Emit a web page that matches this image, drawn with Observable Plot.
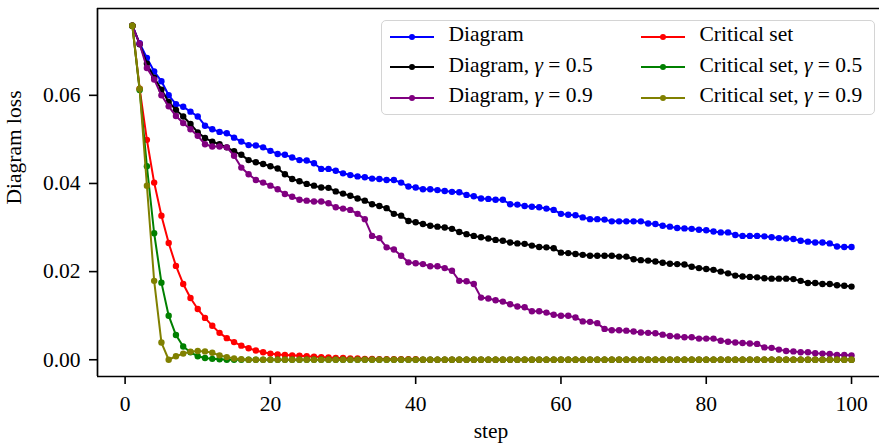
<!DOCTYPE html>
<html>
<head>
<meta charset="utf-8">
<script src="https://cdn.jsdelivr.net/npm/d3@7"></script>
<script src="https://cdn.jsdelivr.net/npm/@observablehq/plot@0.6"></script>
<style>
  body { margin: 0; background: #fff; }
  #wrap { position: relative; width: 879px; height: 445px; font-family: "Liberation Serif", "Times New Roman", serif; }
  #legend { position: absolute; left: 381px; top: 20px; width: 494px; height: 95px; box-sizing: border-box;
            border: 1.5px solid #d4d4d4; border-radius: 5px; background: rgba(255,255,255,0.8); }
  .lg-text { position: absolute; font-size: 21.5px; line-height: 1; white-space: nowrap; color: #000; }
  .lg-handle { position: absolute; }
</style>
</head>
<body>
<div id="wrap"><div id="chart"></div><div id="legend"></div></div>
<script>
// ---- data ----
const steps = d3.range(1, 101);

const diagram = [
  0.0758,0.0718,0.0685,0.0654,0.0632,0.0600,0.0580,0.0574,0.0563,0.0552,
  0.0531,0.0523,0.0517,0.0514,0.0504,0.0495,0.0487,0.0486,0.0482,0.0474,
  0.0467,0.0465,0.0459,0.0453,0.0452,0.0446,0.0433,0.0433,0.0429,0.0423,
  0.0419,0.0416,0.0414,0.0411,0.0410,0.0408,0.0408,0.0402,0.0393,0.0391,
  0.0387,0.0387,0.0385,0.0383,0.0381,0.0380,0.0374,0.0371,0.0366,0.0365,
  0.0363,0.0363,0.0353,0.0352,0.0349,0.0347,0.0346,0.0343,0.0340,0.0331,
  0.0329,0.0328,0.0323,0.0319,0.0319,0.0318,0.0314,0.0314,0.0314,0.0314,
  0.0314,0.0309,0.0308,0.0304,0.0302,0.0299,0.0298,0.0297,0.0295,0.0294,
  0.0291,0.0289,0.0289,0.0283,0.0281,0.0281,0.0281,0.0280,0.0278,0.0276,
  0.0275,0.0274,0.0270,0.0268,0.0266,0.0266,0.0264,0.0257,0.0256,0.0256
];
const diagram05 = [
  0.0758,0.0716,0.0672,0.0640,0.0613,0.0585,0.0567,0.0552,0.0535,0.0516,
  0.0503,0.0495,0.0489,0.0482,0.0473,0.0465,0.0453,0.0448,0.0444,0.0439,
  0.0434,0.0421,0.0410,0.0405,0.0399,0.0395,0.0391,0.0390,0.0382,0.0377,
  0.0372,0.0366,0.0361,0.0353,0.0349,0.0344,0.0331,0.0327,0.0315,0.0312,
  0.0308,0.0304,0.0302,0.0300,0.0297,0.0290,0.0285,0.0281,0.0278,0.0275,
  0.0272,0.0270,0.0266,0.0264,0.0263,0.0259,0.0256,0.0255,0.0253,0.0243,
  0.0242,0.0240,0.0238,0.0236,0.0236,0.0236,0.0236,0.0234,0.0234,0.0228,
  0.0226,0.0225,0.0223,0.0220,0.0218,0.0217,0.0216,0.0211,0.0208,0.0206,
  0.0204,0.0200,0.0196,0.0191,0.0189,0.0188,0.0187,0.0185,0.0184,0.0184,
  0.0184,0.0183,0.0179,0.0174,0.0174,0.0172,0.0172,0.0169,0.0168,0.0166
];
const diagram09 = [
  0.0758,0.0717,0.0662,0.0636,0.0600,0.0575,0.0553,0.0537,0.0523,0.0508,
  0.0489,0.0484,0.0484,0.0482,0.0463,0.0436,0.0421,0.0408,0.0402,0.0395,
  0.0387,0.0376,0.0370,0.0363,0.0361,0.0359,0.0359,0.0355,0.0346,0.0343,
  0.0340,0.0331,0.0319,0.0281,0.0276,0.0255,0.0250,0.0236,0.0221,0.0219,
  0.0217,0.0212,0.0212,0.0208,0.0202,0.0179,0.0178,0.0172,0.0141,0.0139,
  0.0135,0.0132,0.0126,0.0121,0.0119,0.0110,0.0110,0.0107,0.0102,0.0100,
  0.0100,0.0096,0.0087,0.0086,0.0083,0.0070,0.0067,0.0067,0.0066,0.0064,
  0.0062,0.0061,0.0060,0.0057,0.0054,0.0053,0.0051,0.0051,0.0048,0.0048,
  0.0048,0.0043,0.0041,0.0039,0.0038,0.0037,0.0036,0.0028,0.0027,0.0023,
  0.0020,0.0019,0.0017,0.0017,0.0015,0.0014,0.0013,0.0011,0.0011,0.0010
];
const critical = [
  0.0758,0.0615,0.0499,0.0402,0.0327,0.0265,0.0213,0.0172,0.0140,0.0115,
  0.0095,0.0077,0.0061,0.0049,0.0040,0.0032,0.0026,0.0021,0.0017,0.0014,
  0.0012,0.0011,0.0010,0.0009,0.0008,0.0007,0.0006,0.0005,0.0004,0.0004,
  0.0003,0.0003,0.0002,0.0002,0.0001,0.0001,0.0001,0.0001,0.0001,0.0001,
  0,0,0,0,0,0,0,0,0,0,
  0,0,0,0,0,0,0,0,0,0,
  0,0,0,0,0,0,0,0,0,0,
  0,0,0,0,0,0,0,0,0,0,
  0,0,0,0,0,0,0,0,0,0,
  0,0,0,0,0,0,0,0,0,0
];
const critical05 = [
  0.0758,0.0612,0.0439,0.0287,0.0175,0.0100,0.0056,0.0030,0.0017,0.0008,
  0.0004,0.0002,0.0001,0,0,0,0,0,0,0,
  0,0,0,0,0,0,0,0,0,0,
  0,0,0,0,0,0,0,0,0,0,
  0,0,0,0,0,0,0,0,0,0,
  0,0,0,0,0,0,0,0,0,0,
  0,0,0,0,0,0,0,0,0,0,
  0,0,0,0,0,0,0,0,0,0,
  0,0,0,0,0,0,0,0,0,0,
  0,0,0,0,0,0,0,0,0,0
];
const critical09 = [
  0.0758,0.0615,0.0395,0.0179,0.0039,0.0000,0.0008,0.0014,0.0018,0.0020,
  0.0019,0.0016,0.0010,0.0006,0.0003,0.0001,0,0,0,0,
  0,0,0,0,0,0,0,0,0,0,
  0,0,0,0,0,0,0,0,0,0,
  0,0,0,0,0,0,0,0,0,0,
  0,0,0,0,0,0,0,0,0,0,
  0,0,0,0,0,0,0,0,0,0,
  0,0,0,0,0,0,0,0,0,0,
  0,0,0,0,0,0,0,0,0,0,
  0,0,0,0,0,0,0,0,0,0
];

const seriesNames = ["Diagram", "Diagram, γ = 0.5", "Diagram, γ = 0.9",
                     "Critical set", "Critical set, γ = 0.5", "Critical set, γ = 0.9"];
const seriesValues = [diagram, diagram05, diagram09, critical, critical05, critical09];
const seriesColors = ["#0000ff", "#000000", "#800080", "#ff0000", "#008000", "#808000"];

const xTicks = [0, 20, 40, 60, 80, 100];
const yTicks = [0.00, 0.02, 0.04, 0.06];
const xDomain = [-3.8, 103.85];
const yDomain = [-0.0038, 0.0797];

// ---- build ----
const series = seriesNames.map((name, i) => ({
  name, color: seriesColors[i],
  data: steps.map((s, j) => ({step: s, loss: seriesValues[i][j]}))
}));

const seriesMarks = series.flatMap(s => [
  Plot.line(s.data, {x: "step", y: "loss", stroke: s.color, strokeWidth: 2}),
  Plot.dot(s.data, {x: "step", y: "loss", fill: s.color, r: 3.2, stroke: "none"})
]);

const chart = Plot.plot({
  width: 879,
  height: 445,
  marginLeft: 97,
  marginRight: 0,
  marginTop: 8,
  marginBottom: 69,
  style: {fontFamily: "'Liberation Serif', 'Times New Roman', serif", fontSize: "21.5px", background: "white", color: "black", overflow: "visible"},
  x: {domain: xDomain},
  y: {domain: yDomain},
  marks: [
    ...seriesMarks,
    Plot.ruleX([xDomain[0]], {stroke: "black", strokeWidth: 1.7}),
    Plot.ruleY([yDomain[0], yDomain[1]], {stroke: "black", strokeWidth: 1.7}),
    Plot.axisX({ticks: xTicks, tickSize: 8, tickPadding: 11, tickFormat: d => String(d), label: null, strokeWidth: 1.6, fill: "black"}),
    Plot.axisY({ticks: yTicks, tickSize: 8, tickPadding: 9, tickFormat: d => d.toFixed(2), label: null, strokeWidth: 1.6, fill: "black"}),
    Plot.text(["step"], {frameAnchor: "bottom", dx: 2.5, dy: 61, lineAnchor: "bottom", text: d => d, fill: "black"}),
    Plot.text(["Diagram loss"], {frameAnchor: "left", rotate: -90, dx: -83, dy: 12, text: d => d, fill: "black"})
  ]
});
document.getElementById("chart").appendChild(chart);

// ---- legend ----
const legend = document.getElementById("legend");
const colLine = [8, 259], colText = [68, 319], rowY = [15.5, 46, 76.5];
series.forEach((s, i) => {
  const col = Math.floor(i / 3), row = i % 3;
  const h = document.createElementNS("http://www.w3.org/2000/svg", "svg");
  h.setAttribute("class", "lg-handle");
  h.setAttribute("width", 46); h.setAttribute("height", 10);
  h.style.left = (colLine[col] - 1.5) + "px";
  h.style.top = (rowY[row] - 5) + "px";
  h.innerHTML = `<line x1="1" x2="45" y1="5" y2="5" stroke="${s.color}" stroke-width="2"/><circle cx="23" cy="5" r="3" fill="${s.color}"/>`;
  legend.appendChild(h);
  const t = document.createElement("div");
  t.className = "lg-text";
  t.style.left = (colText[col] - 1.5) + "px";
  t.style.top = (rowY[row] - 10.9 - 1.5) + "px";
  t.innerHTML = s.name.replace("γ", "<i>γ</i>");
  legend.appendChild(t);
});
</script>
</body>
</html>
